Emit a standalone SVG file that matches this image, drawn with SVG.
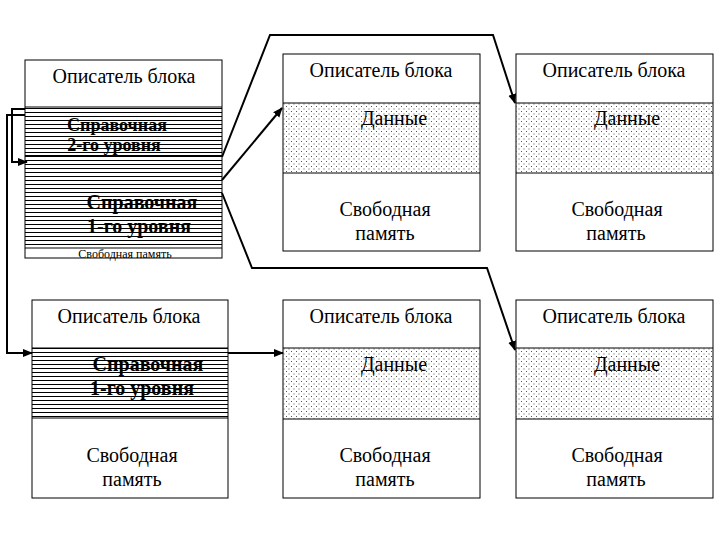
<svg xmlns="http://www.w3.org/2000/svg" width="720" height="540" viewBox="0 0 720 540">
<style>
.box{fill:#fff;stroke:#000;stroke-width:1}
.sep{stroke:#000;stroke-width:1;fill:none}
text{font-family:'Liberation Serif','Times New Roman',Tinos,'DejaVu Serif',serif;font-size:20px;fill:#000;text-anchor:middle}
.b{font-weight:bold}
.m{font-size:18px}
.s{font-size:12px}
.con{fill:none;stroke:#000;stroke-width:2}
</style>
<defs>
<pattern id="hatch" width="8" height="4" patternUnits="userSpaceOnUse"><rect x="0" y="0" width="8" height="1" fill="#000"/></pattern>
<pattern id="dots" width="5" height="5" patternUnits="userSpaceOnUse"><rect x="1" y="1" width="1" height="1" fill="#555"/><rect x="3.5" y="3.5" width="1" height="1" fill="#555"/></pattern>
<marker id="arr" viewBox="0 0 10 10" refX="9" refY="5" markerWidth="5" markerHeight="5" orient="auto" markerUnits="strokeWidth"><path d="M0,1 L10,5 L0,9 z" fill="#000"/></marker>
</defs>
<rect width="720" height="540" fill="#fff"/>

<g id="blockA">
<rect class="box" x="25" y="60" width="197" height="198"/>
<text x="124" y="83">Описатель блока</text>
<text class="b m" x="117" y="131">Справочная</text>
<text class="b m" x="114" y="151">2-го уровня</text>
<text class="b" x="142" y="209">Справочная</text>
<text class="b" x="139" y="233">1-го уровня</text>
<rect x="25" y="107" width="197" height="141" fill="url(#hatch)"/>
<line class="sep" x1="25" y1="107" x2="222" y2="107"/>
<line x1="25" y1="156" x2="222" y2="156" stroke="#000" stroke-width="2"/>
<line class="sep" x1="25" y1="248" x2="222" y2="248"/>
<text class="s" x="125" y="258">Свободная память</text>
</g>

<g id="blockB">
<rect class="box" x="283" y="54" width="197" height="197"/>
<rect x="283" y="103" width="197" height="70" fill="url(#dots)"/>
<line class="sep" x1="283" y1="103" x2="480" y2="103"/>
<line class="sep" x1="283" y1="173" x2="480" y2="173"/>
<text x="381" y="77">Описатель блока</text>
<text x="394" y="125">Данные</text>
<text x="385" y="216">Свободная</text>
<text x="385" y="240">память</text>
</g>

<g id="blockC">
<rect class="box" x="516" y="54" width="197" height="197"/>
<rect x="516" y="103" width="197" height="70" fill="url(#dots)"/>
<line class="sep" x1="516" y1="103" x2="713" y2="103"/>
<line class="sep" x1="516" y1="173" x2="713" y2="173"/>
<text x="614" y="77">Описатель блока</text>
<text x="627" y="125">Данные</text>
<text x="617" y="216">Свободная</text>
<text x="616" y="240">память</text>
</g>

<g id="blockD">
<rect class="box" x="32" y="300" width="196" height="198"/>
<text x="129" y="323">Описатель блока</text>
<text class="b" x="148" y="371">Справочная</text>
<text class="b" x="142" y="395">1-го уровня</text>
<rect x="32" y="348" width="196" height="70" fill="url(#hatch)"/>
<line class="sep" x1="32" y1="348" x2="228" y2="348"/>
<line class="sep" x1="32" y1="418" x2="228" y2="418"/>
<text x="132" y="462">Свободная</text>
<text x="132" y="486">память</text>
</g>

<g id="blockE">
<rect class="box" x="283" y="300" width="197" height="198"/>
<rect x="283" y="348" width="197" height="71" fill="url(#dots)"/>
<line class="sep" x1="283" y1="348" x2="480" y2="348"/>
<line class="sep" x1="283" y1="419" x2="480" y2="419"/>
<text x="381" y="323">Описатель блока</text>
<text x="394" y="371">Данные</text>
<text x="385" y="462">Свободная</text>
<text x="385" y="486">память</text>
</g>

<g id="blockF">
<rect class="box" x="516" y="300" width="197" height="198"/>
<rect x="516" y="348" width="197" height="71" fill="url(#dots)"/>
<line class="sep" x1="516" y1="348" x2="713" y2="348"/>
<line class="sep" x1="516" y1="419" x2="713" y2="419"/>
<text x="614" y="323">Описатель блока</text>
<text x="627" y="371">Данные</text>
<text x="617" y="462">Свободная</text>
<text x="616" y="486">память</text>
</g>

<g id="connectors">
<polyline class="con" points="25,109 12,109 12,162 27,162" marker-end="url(#arr)"/>
<polyline class="con" points="25,115 7,115 7,353 32,353" marker-end="url(#arr)"/>
<polyline class="con" points="222,157 270,35 493,35 515,103" marker-end="url(#arr)"/>
<polyline class="con" points="222,180 282,108" marker-end="url(#arr)"/>
<polyline class="con" points="222,193 252,268 487,268 515,350" marker-end="url(#arr)"/>
<polyline class="con" points="228,353 283,353" marker-end="url(#arr)"/>
</g>
</svg>
